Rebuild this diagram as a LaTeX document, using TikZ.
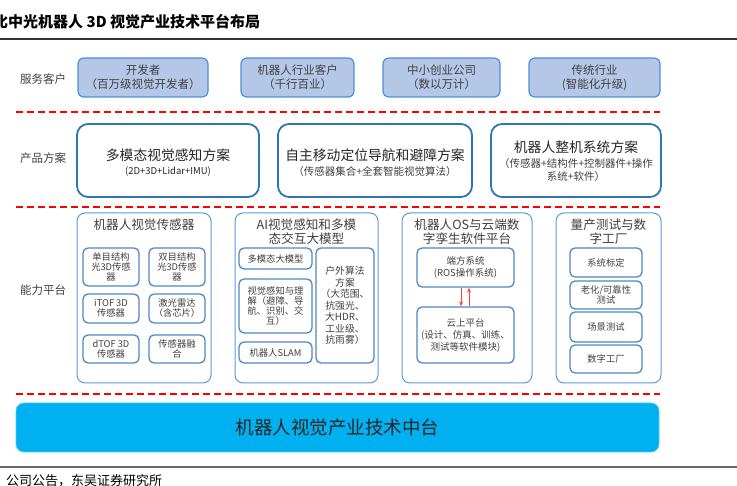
\documentclass[tikz,border=0pt]{standalone}
\usepackage{fontspec}
\setmainfont{Noto Sans CJK SC}
\usetikzlibrary{arrows.meta}
\definecolor{tgray}{HTML}{404040}
\definecolor{custfill}{HTML}{B4C7E7}
\definecolor{custline}{HTML}{4A90D9}
\definecolor{prodline}{HTML}{2E75B6}
\definecolor{panline}{HTML}{5B9BD5}
\definecolor{midfill}{HTML}{00B0F0}
\tikzset{
  custbox/.style={draw=custline, line width=1.2pt, fill=custfill, rounded corners=6pt,
    align=center, text=tgray, font=\fontsize{11.5}{14}\selectfont, inner sep=0pt},
  prodbox/.style={draw=prodline, line width=1.8pt, fill=white, rounded corners=11pt,
    align=center, text=black!85, inner sep=0pt},
  panel/.style={draw=panline, line width=1pt, fill=white, rounded corners=8pt, inner sep=0pt},
  subbox/.style={draw=prodline!85, line width=1.3pt, fill=white, rounded corners=5pt,
    align=center, text=tgray, font=\fontsize{9.3}{10}\selectfont, inner sep=0pt},
  rowlabel/.style={text=tgray, font=\fontsize{11.5}{13}\selectfont, inner sep=0pt},
  ptitle/.style={text=tgray, font=\fontsize{12.6}{13.5}\selectfont, align=center, inner sep=0pt, anchor=north},
  reddash/.style={draw=red, line width=2.4pt, dash pattern=on 7pt off 4pt},
  flow/.style={draw=red!75, line width=0.8pt, -{Stealth[length=5pt,width=4pt]}}
}
\begin{document}
\begin{tikzpicture}[x=1pt,y=-1pt]
\useasboundingbox (0,0) rectangle (737,486);
\clip (0,0) rectangle (737,486);
% title
\node[anchor=west, inner sep=0pt, font=\fontsize{15}{16}\bfseries\selectfont] (title) at (-7,22) {比中光机器人 3D 视觉产业技术平台布局};
\draw[black!80, line width=1.2pt] (0,39) -- (737,39);
% row labels
\node[rowlabel] (l1) at (43,79) {服务客户};
\node[rowlabel] (l2) at (43,158) {产品方案};
\node[rowlabel] (l3) at (43,290) {能力平台};
% row 1
\node[custbox, minimum width=130pt, minimum height=39pt] (c1) at (143,77.5) {开发者\\（百万级视觉开发者）};
\node[custbox, minimum width=113pt, minimum height=39pt] (c2) at (297.5,77.5) {机器人行业客户\\（千行百业）};
\node[custbox, minimum width=117pt, minimum height=39pt] (c3) at (441.5,77.5) {中小创业公司\\（数以万计）};
\node[custbox, minimum width=131pt, minimum height=39pt] (c4) at (594.5,77.5) {传统行业\\(智能化升级)};
% dashed separators
\draw[reddash] (16,112) -- (660,112);
\draw[reddash] (16,207) -- (660,207);
\draw[reddash] (16,394) -- (660,394);
% row 2
\node[prodbox, minimum width=182pt, minimum height=73pt] (p1) at (168,160.5) {};
\node[prodbox, minimum width=194pt, minimum height=73pt] (p2) at (375,160.5) {};
\node[prodbox, minimum width=170pt, minimum height=73pt] (p3) at (576,160.5) {};
\node[inner sep=0pt, font=\fontsize{13.8}{15}\selectfont, text=black!85] (p1t) at (168,155) {多模态视觉感知方案};
\node[inner sep=0pt, font=\fontsize{9.5}{11}\selectfont, text=black!85] (p1s) at (168,172) {(2D+3D+Lidar+IMU)};
\node[inner sep=0pt, font=\fontsize{13.8}{15}\selectfont, text=black!85] (p2t) at (375,155) {自主移动定位导航和避障方案};
\node[inner sep=0pt, font=\fontsize{10.5}{12}\selectfont, text=tgray] (p2s) at (375,172) {（传感器集合+全套智能视觉算法）};
\node[inner sep=0pt, font=\fontsize{13.8}{15}\selectfont, text=black!85] (p3t) at (576,147) {机器人整机系统方案};
\node[inner sep=0pt, font=\fontsize{10.5}{13}\selectfont, text=tgray, align=center] (p3s) at (576,170) {（传感器+结构件+控制器件+操作\\系统+软件）};
% row 3 panels
\node[panel, minimum width=134pt, minimum height=170pt] (P1) at (144,298) {};
\node[panel, minimum width=143pt, minimum height=170pt] (P2) at (306.5,298) {};
\node[panel, minimum width=130pt, minimum height=170pt] (P3) at (467,298) {};
\node[panel, minimum width=105pt, minimum height=170pt] (P4) at (608.5,298) {};
\node[ptitle] (P1t) at (144,219) {机器人视觉传感器};
\node[ptitle] (P2t) at (306.5,219) {AI视觉感知和多模\\态交互大模型};
\node[ptitle] (P3t) at (467,219) {机器人OS与云端数\\字孪生软件平台};
\node[ptitle] (P4t) at (608.5,219) {量产测试与数\\字工厂};
% panel 1
\node[subbox, minimum width=56pt, minimum height=38pt] (s11) at (111,267) {单目结构\\光3D传感\\器};
\node[subbox, minimum width=56pt, minimum height=38pt] (s12) at (177,267) {双目结构\\光3D传感\\器};
\node[subbox, minimum width=56pt, minimum height=29pt] (s13) at (111,308.5) {iTOF 3D\\传感器};
\node[subbox, minimum width=56pt, minimum height=29pt] (s14) at (177,308.5) {激光雷达\\（含芯片）};
\node[subbox, minimum width=56pt, minimum height=28pt] (s15) at (111,349) {dTOF 3D\\传感器};
\node[subbox, minimum width=56pt, minimum height=28pt] (s16) at (177,349) {传感器融\\合};
% panel 2
\node[subbox, minimum width=73pt, minimum height=21pt] (s21) at (275.5,258.5) {多模态大模型};
\node[subbox, minimum width=73pt, minimum height=54pt] (s22) at (275.5,306) {视觉感知与理\\解（避障、导\\航、识别、交\\互）};
\node[subbox, minimum width=73pt, minimum height=21pt] (s23) at (275.5,352.5) {机器人SLAM};
\node[subbox, minimum width=58pt, minimum height=115pt, font=\fontsize{9.8}{11.5}\selectfont] (s24) at (345,305.5) {户外算法\\方案\\（大范围、\\抗强光、\\大HDR、\\工业级、\\抗雨雾）};
% panel 3
\node[subbox, minimum width=97pt, minimum height=39pt, font=\fontsize{9.5}{12}\selectfont] (s31) at (465.5,267.5) {端方系统\\(ROS操作系统)};
\node[subbox, minimum width=97pt, minimum height=56pt, font=\fontsize{9.5}{12}\selectfont] (s32) at (465.5,335) {云上平台\\(设计、仿真、训练、\\测试等软件模块)};
\draw[flow] ([xshift=-4.5pt]s31.south) -- ([xshift=-4.5pt]s32.north);
\draw[flow] ([xshift=3.5pt]s32.north) -- ([xshift=3.5pt]s31.south);
% panel 4
\node[subbox, minimum width=72pt, minimum height=29pt] (s41) at (606,262.5) {系统标定};
\node[subbox, minimum width=72pt, minimum height=28pt] (s42) at (606,295) {老化/可靠性\\测试};
\node[subbox, minimum width=72pt, minimum height=30pt] (s43) at (606,327) {场景测试};
\node[subbox, minimum width=72pt, minimum height=28pt] (s44) at (606,359) {数字工厂};
% middle platform
\node[fill=midfill, draw=midfill!70!white, line width=0.8pt, rounded corners=8pt, minimum width=643pt, minimum height=49pt, inner sep=0pt, font=\fontsize{18.5}{20}\selectfont, text=black!85] (mid) at (337.5,427.5) {机器人视觉产业技术中台};
% source
\draw[black!60, line width=1.2pt] (0,467) -- (737,467);
\node[anchor=west, inner sep=0pt, font=\fontsize{13}{14}\selectfont, text=black] (src) at (6,481) {公司公告，东吴证券研究所};
\end{tikzpicture}
\end{document}
